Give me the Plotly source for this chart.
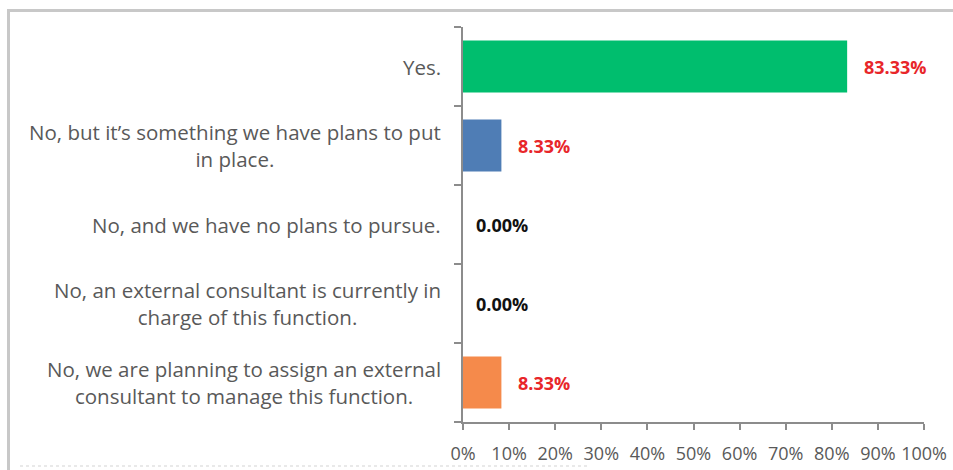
import plotly.graph_objects as go

# Survey responses (top to bottom as displayed)
categories = [
    "Yes.",
    "No, but it\u2019s something we have plans to put<br>in place.",
    "No, and we have no plans to pursue.",
    "No, an external consultant is currently in<br>charge of this function.",
    "No, we are planning to assign an external<br>consultant to manage this function.",
]
values = [83.33, 8.33, 0.00, 0.00, 8.33]
bar_colors = ["#00BE6E", "#4F7DB5", "#4F7DB5", "#4F7DB5", "#F58A4B"]
label_colors = ["#E8262A", "#E8262A", "#111111", "#111111", "#E8262A"]
x_ticks = list(range(0, 101, 10))
x_tick_text = [f"{t}%" for t in x_ticks]

W, H = 953, 470
L, R, T, B = 463, 29, 27, 48
pw, ph = W - L - R, H - T - B
FONT = "Open Sans"


def px_x(p):
    return (p - L) / pw


def px_y(p):
    return (H - B - p) / ph


fig = go.Figure(
    go.Bar(
        x=values,
        y=categories,
        orientation="h",
        marker=dict(color=bar_colors, line=dict(width=0)),
        hoverinfo="skip",
    )
)

annotations = []
for cat, val, col in zip(categories, values, label_colors):
    # category label, centred lines, right edge near the axis
    annotations.append(dict(
        x=0, xref="paper", y=cat, yref="y", text=cat,
        xanchor="right", yanchor="middle", align="center", xshift=-20,
        showarrow=False, font=dict(family=FONT, size=20.5, color="#595959"),
    ))
    # value label beside the bar
    annotations.append(dict(
        x=val, xref="x", y=cat, yref="y", text=f"<b>{val:.2f}%</b>",
        xanchor="left", yanchor="middle", xshift=15 if val > 0 else 11,
        showarrow=False, font=dict(family=FONT, size=18, color=col),
    ))

shapes = [
    # outer frame (top and left edges)
    dict(type="line", xref="paper", yref="paper",
         x0=px_x(7), x1=px_x(W + 5), y0=px_y(10.5), y1=px_y(10.5),
         line=dict(color="#C8C8C8", width=3)),
    dict(type="line", xref="paper", yref="paper",
         x0=px_x(8.5), x1=px_x(8.5), y0=px_y(9), y1=px_y(H + 5),
         line=dict(color="#C8C8C8", width=3)),
    # faint dotted rule along the bottom
    dict(type="line", xref="paper", yref="paper",
         x0=px_x(20), x1=px_x(590), y0=px_y(466), y1=px_y(466),
         line=dict(color="#E2E2E2", width=1.5, dash="dot")),
]

fig.update_layout(
    width=W, height=H,
    margin=dict(l=L, r=R, t=T, b=B, pad=0),
    paper_bgcolor="white", plot_bgcolor="white",
    bargap=0.34,
    showlegend=False,
    annotations=annotations,
    shapes=shapes,
    xaxis=dict(
        range=[0, 100], tickvals=x_ticks, ticktext=x_tick_text,
        showgrid=False, zeroline=False,
        showline=True, linecolor="#8C8C8C", linewidth=1.5,
        ticks="outside", ticklen=6, tickcolor="#8C8C8C", tickwidth=1.5,
        ticklabelstandoff=9, automargin=False,
        tickfont=dict(family=FONT, size=18, color="#595959"),
        fixedrange=True,
    ),
    yaxis=dict(
        categoryorder="array", categoryarray=categories[::-1],
        autorange=False, range=[-0.5, 4.5],
        showticklabels=False, automargin=False,
        showgrid=False, zeroline=False,
        showline=True, linecolor="#8C8C8C", linewidth=1.5,
        ticks="outside", tickson="boundaries", ticklen=7,
        tickcolor="#8C8C8C", tickwidth=1.5,
        fixedrange=True,
    ),
)

fig.write_html("out.html")
